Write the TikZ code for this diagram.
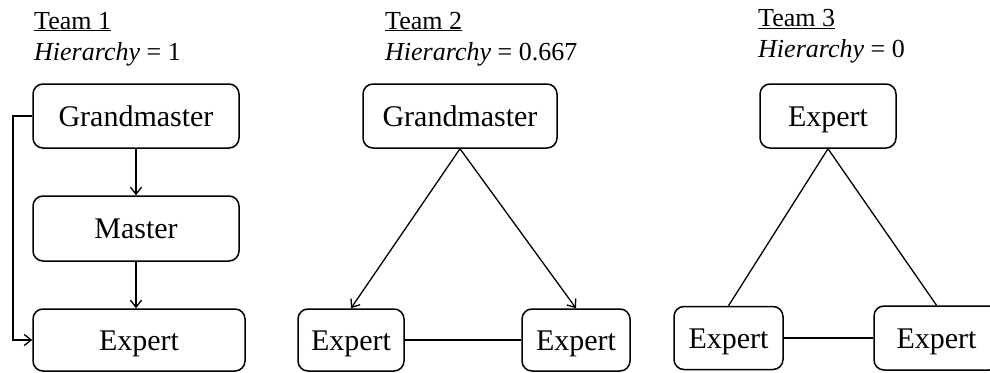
\documentclass[tikz,border=0pt]{standalone}
\usepackage{fontspec}
\setmainfont{Liberation Serif}
\usetikzlibrary{arrows.meta}
\begin{document}
\begin{tikzpicture}[x=1pt,y=-1pt,
  box/.style={draw,line width=1.5pt,rounded corners=10pt,inner sep=0pt,
    font=\fontsize{30}{36}\selectfont,text height=20pt,text depth=0pt},
  title/.style={anchor=base west,inner sep=0pt,font=\fontsize{26}{31}\selectfont},
  conn/.style={line width=1.3pt},
  arr/.style={conn,-{Straight Barb[length=7pt,width=11pt,line width=1.3pt]}}]
\useasboundingbox (0,0) rectangle (990,372);
% Team 1
\node[title] (t1) at (34,29) {\underline{Team 1}};
\node[title] (h1) at (34,60) {\textit{Hierarchy} = 1};
\node[box,minimum width=206pt,minimum height=64pt] (g1) at (136,116) {Grandmaster};
\node[box,minimum width=206pt,minimum height=65pt] (m1) at (136,228.5) {Master};
\node[box,minimum width=212pt,minimum height=62pt] (e1) at (139,340) {Expert};
\coordinate (l1) at (13,116);
\draw[arr] (g1.south) -- (m1.north);
\draw[arr] (m1.south) -- (m1.south |- e1.north);
\draw[arr] (g1.west) -- (l1) |- (e1.west);
% Team 2
\node[title] (t2) at (385,29) {\underline{Team 2}};
\node[title] (h2) at (385,60) {\textit{Hierarchy} = 0.667};
\node[box,minimum width=194pt,minimum height=64pt] (g2) at (460,116) {Grandmaster};
\node[box,minimum width=106pt,minimum height=62pt] (e2a) at (351,340) {Expert};
\node[box,minimum width=108pt,minimum height=62pt] (e2b) at (576,340) {Expert};
\draw[arr] (g2.south) -- (e2a.north);
\draw[arr] (g2.south) -- (e2b.north);
\draw[conn] (e2a.east) -- (e2b.west);
% Team 3
\node[title] (t3) at (758,27) {\underline{Team 3}};
\node[title] (h3) at (758,57) {\textit{Hierarchy} = 0};
\node[box,minimum width=136pt,minimum height=64pt] (g3) at (828,116) {Expert};
\node[box,minimum width=109pt,minimum height=63pt] (e3a) at (728.5,338) {Expert};
\node[box,minimum width=125pt,minimum height=64pt] (e3b) at (936.5,338) {Expert};
\draw[conn] (g3.south) -- (e3a.north);
\draw[conn] (g3.south) -- (e3b.north);
\draw[conn] (e3a.east) -- (e3b.west);
\end{tikzpicture}
\end{document}
